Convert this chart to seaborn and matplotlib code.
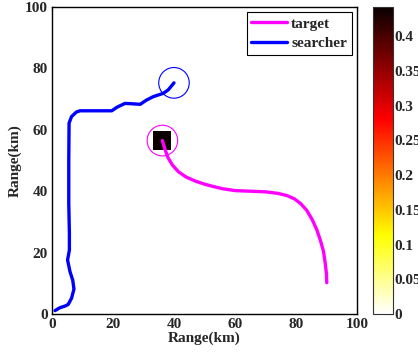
import numpy as np
import pandas as pd
import matplotlib
matplotlib.use("Agg")
import matplotlib.pyplot as plt
from matplotlib.patches import Circle
import seaborn as sns

# Target track (km)
target_x = [36.2, 37.0, 38.0, 39.5, 41.5, 44.0, 47.0, 50.0, 53.0, 56.0, 60.0, 65.0,
            70.0, 74.0, 77.0, 79.5, 81.5, 83.5, 85.3, 86.8, 88.0, 89.0, 89.6, 90.0, 90.1]
target_y = [56.5, 53.8, 51.0, 48.5, 46.3, 44.6, 43.3, 42.3, 41.5, 40.8, 40.2, 40.0,
            39.8, 39.3, 38.6, 37.5, 36.0, 33.8, 30.8, 27.5, 24.0, 20.5, 16.5, 13.0, 10.2]

# Searcher track (km)
searcher_x = [1.0, 2.5, 4.3, 5.3, 6.4, 7.2, 6.8, 5.9, 5.1, 5.7, 5.7, 5.5, 5.5, 5.6,
              6.4, 8.0, 9.2, 19.6, 21.2, 23.9, 26.1, 28.9, 31.0, 33.2, 36.5, 38.1, 40.0]
searcher_y = [1.1, 2.0, 2.6, 3.1, 5.1, 8.1, 11.0, 13.8, 17.6, 20.8, 26.4, 36.0, 50.0, 62.2,
              64.3, 65.8, 66.2, 66.2, 67.3, 68.6, 68.5, 68.3, 69.7, 70.8, 71.9, 73.0, 75.3]

# Detection probability map (cell edges in km, value per cell)
grid_x_edges = [0, 33.0, 39.0, 100]
grid_y_edges = [0, 53.5, 59.5, 100]
prob = [[0.0, 0.0, 0.0],
        [0.0, 0.442, 0.0],
        [0.0, 0.0, 0.0]]

cbar_ticks = [0, 0.05, 0.1, 0.15, 0.2, 0.25, 0.3, 0.35, 0.4]
axis_ticks = [0, 20, 40, 60, 80, 100]

sns.set_style("ticks")
plt.rcParams["font.family"] = ["Liberation Serif", "DejaVu Serif"]
plt.rcParams["font.weight"] = "bold"
plt.rcParams["font.size"] = 11

fig = plt.figure(figsize=(4.18, 3.52), dpi=100)
ax = fig.add_axes([0.1244, 0.108, 0.7296, 0.872])
cax = fig.add_axes([0.8923, 0.108, 0.0478, 0.872])

mesh = ax.pcolormesh(grid_x_edges, grid_y_edges, np.array(prob), cmap="hot_r",
                     vmin=0, vmax=0.442, shading="flat")

tdf = pd.DataFrame({"x": target_x, "y": target_y})
sdf = pd.DataFrame({"x": searcher_x, "y": searcher_y})
sns.lineplot(data=tdf, x="x", y="y", sort=False, estimator=None, color="#ff00ff",
             lw=2.4, ax=ax, label="target")
sns.lineplot(data=sdf, x="x", y="y", sort=False, estimator=None, color="#0000ff",
             lw=2.4, ax=ax, label="searcher")

ax.add_patch(Circle((target_x[0], target_y[0]), 5, fill=False, ec="#ff00ff", lw=0.8))
ax.add_patch(Circle((searcher_x[-1], searcher_y[-1]), 5, fill=False, ec="#0000ff", lw=0.8))

ax.set_xlim(0, 100)
ax.set_ylim(0, 100)
ax.set_xticks(axis_ticks)
ax.set_yticks(axis_ticks)
ax.tick_params(direction="in", top=True, right=True, length=3, width=0.8,
               labelsize=11, pad=3)
for lab in ax.get_xticklabels() + ax.get_yticklabels():
    lab.set_fontweight("bold")
for sp in ax.spines.values():
    sp.set_visible(True)
    sp.set_linewidth(1.0)
    sp.set_color("black")
ax.set_xlabel("Range(km)", fontweight="bold", fontsize=11, labelpad=0)
ax.set_ylabel("Range(km)", fontweight="bold", fontsize=11, labelpad=2)

leg = ax.legend(loc="upper right", fancybox=False, framealpha=1, edgecolor="black",
                handlelength=2.3, handletextpad=0.3, borderpad=0.3, labelspacing=0.4,
                borderaxespad=0.35, prop={"weight": "bold", "size": 11})
leg.get_frame().set_linewidth(0.8)

cb = fig.colorbar(mesh, cax=cax)
cb.set_ticks(cbar_ticks)
cb.set_ticklabels([f"{t:g}" for t in cbar_ticks])
cax.tick_params(direction="in", length=3, width=0.8, labelsize=11, pad=1)
for lab in cax.get_yticklabels():
    lab.set_fontweight("bold")
cb.outline.set_linewidth(0.8)
cb.outline.set_edgecolor("#333333")

fig.savefig("out.png", dpi=100)
